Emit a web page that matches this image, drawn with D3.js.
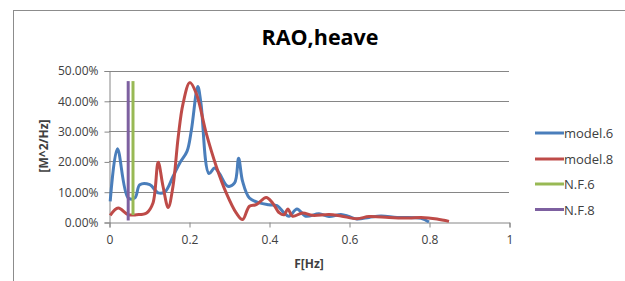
<!DOCTYPE html>
<html><head><meta charset="utf-8">
<script src="https://cdn.jsdelivr.net/npm/d3@7"></script>
<style>body{margin:0;background:#fff}svg{display:block}text{font-family:"Open Sans","Liberation Sans",sans-serif}</style>
</head><body><svg id="c" width="625" height="281"></svg>
<script>
const title = "RAO,heave";
const xLabel = "F[Hz]";
const yLabel = "[M^2/Hz]";
const xTicks = [0, 0.2, 0.4, 0.6, 0.8, 1];
const yTicks = [0, 0.1, 0.2, 0.3, 0.4, 0.5];
const seriesNames = ["model.6", "model.8", "N.F.6", "N.F.8"];
const seriesColors = ["#4A7EBB", "#BE4B48", "#98B954", "#7D60A0"];
const model6F = [0.003,0.021,0.048,0.065,0.077,0.102,0.123,0.14,0.16,0.177,0.195,0.206,0.222,0.23,0.25,0.264,0.276,0.297,0.314,0.324,0.334,0.351,0.376,0.4,0.42,0.438,0.45,0.47,0.492,0.525,0.55,0.58,0.6,0.62,0.65,0.68,0.72,0.78,0.8];
const model6V = [0.068,0.242,0.079,0.08,0.123,0.123,0.096,0.10,0.15,0.195,0.233,0.304,0.447,0.39,0.16,0.178,0.16,0.118,0.129,0.21,0.134,0.079,0.063,0.057,0.054,0.03,0.019,0.043,0.019,0.027,0.018,0.025,0.018,0.01,0.015,0.02,0.015,0.012,0.0];
const model8F = [0.003,0.023,0.048,0.069,0.094,0.11,0.123,0.135,0.148,0.16,0.173,0.185,0.202,0.218,0.243,0.268,0.293,0.318,0.334,0.351,0.368,0.393,0.409,0.426,0.438,0.447,0.459,0.484,0.509,0.55,0.58,0.62,0.65,0.7,0.75,0.78,0.82,0.85];
const model8V = [0.022,0.046,0.024,0.024,0.03,0.063,0.197,0.118,0.048,0.118,0.28,0.39,0.46,0.425,0.293,0.184,0.096,0.03,0.008,0.052,0.057,0.081,0.063,0.03,0.024,0.043,0.019,0.03,0.022,0.025,0.02,0.011,0.018,0.015,0.013,0.015,0.01,0.002];
const nf6F = [0.06, 0.06];
const nf6V = [0.023, 0.465];
const nf8F = [0.048, 0.048];
const nf8V = [0.005, 0.465];

const svg = d3.select("#c");
svg.append("rect").attr("x",13.5).attr("y",10.5).attr("width",700).attr("height",400)
  .attr("fill","#fff").attr("stroke","#8c8c8c").attr("stroke-width",1);

const x = d3.scaleLinear().domain([0,1]).range([109,509]);
const y = d3.scaleLinear().domain([0,0.5]).range([222,70.5]);

// gridlines
svg.append("g").selectAll("line").data(yTicks.slice(1)).join("line")
  .attr("x1",x(0)).attr("x2",x(1)).attr("y1",d=>Math.round(y(d))+0.5).attr("y2",d=>Math.round(y(d))+0.5)
  .attr("stroke","#868686").attr("stroke-width",1);

// axes
const yAxis = svg.append("g").attr("transform",`translate(${x(0)+0.5},0.5)`)
  .call(d3.axisLeft(y).tickValues(yTicks).tickFormat(d3.format(".2%")).tickSize(5).tickPadding(6));
const xAxis = svg.append("g").attr("transform",`translate(0.5,${Math.round(y(0))+0.5})`)
  .call(d3.axisBottom(x).tickValues(xTicks).tickFormat(d=>d3.format("")(d)).tickSize(5).tickPadding(8));
[yAxis,xAxis].forEach(a=>{
  a.select(".domain").attr("stroke","#868686");
  a.selectAll(".tick line").attr("stroke","#868686");
  a.selectAll("text").attr("fill","#404040").style("font-size","12px").style("font-family","'Open Sans','Liberation Sans',sans-serif");
});

const line = d3.line().x(d=>x(d[0])).y(d=>y(d[1])).curve(d3.curveCatmullRom.alpha(0.5));
const data = [
  d3.zip(model6F, model6V),
  d3.zip(model8F, model8V),
  d3.zip(nf6F, nf6V),
  d3.zip(nf8F, nf8V)
];
const order = [0,1,3,2];
order.forEach(i=>{
  svg.append("path").datum(data[i]).attr("d",line).attr("fill","none")
    .attr("stroke",seriesColors[i]).attr("stroke-width",3).attr("stroke-linejoin","round").attr("stroke-linecap","butt");
});

// title
svg.append("text").attr("x",320).attr("y",44.5).attr("text-anchor","middle")
  .style("font-size","21.5px").style("font-weight","bold").attr("fill","#000").text(title);
svg.append("text").attr("x",309).attr("y",268).attr("text-anchor","middle")
  .style("font-size","12px").style("font-weight","bold").attr("fill","#404040").text(xLabel);
svg.append("text").attr("transform","translate(48,146) rotate(-90)").attr("text-anchor","middle")
  .style("font-size","12px").style("font-weight","bold").attr("fill","#404040").text(yLabel);

// legend
const legY = [133, 159, 184, 209.5];
const lg = svg.append("g");
seriesNames.forEach((n,i)=>{
  lg.append("line").attr("x1",535).attr("x2",564).attr("y1",legY[i]).attr("y2",legY[i])
    .attr("stroke",seriesColors[i]).attr("stroke-width",3);
  lg.append("text").attr("x",564).attr("y",legY[i]+5).style("font-size","13px").attr("fill","#404040").text(n);
});
</script></body></html>
